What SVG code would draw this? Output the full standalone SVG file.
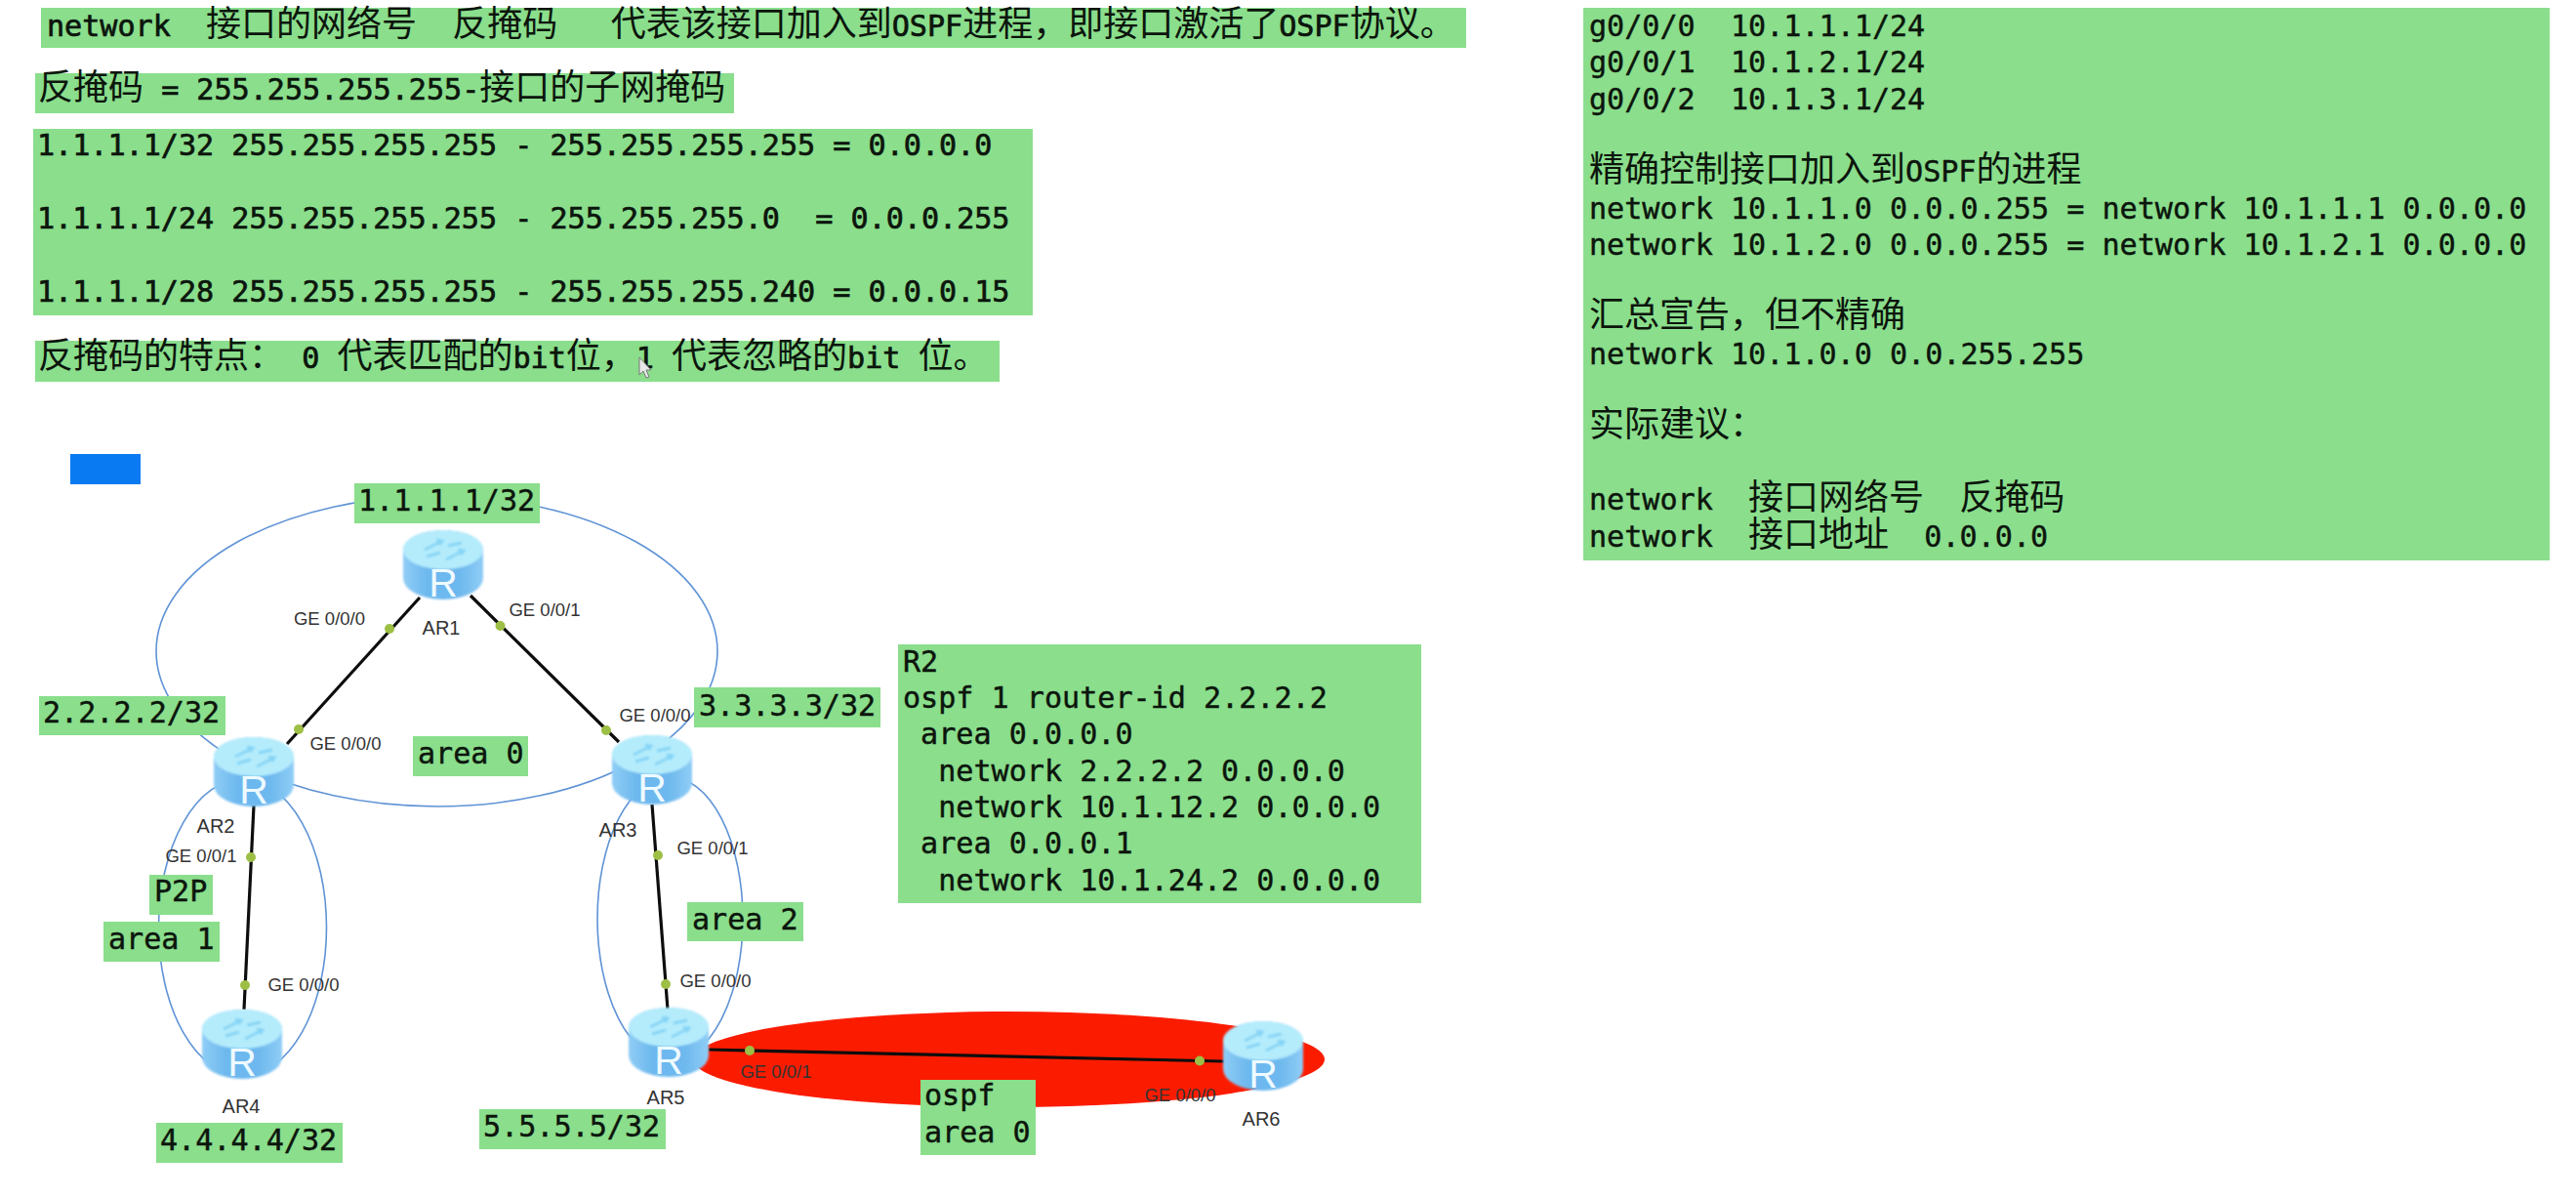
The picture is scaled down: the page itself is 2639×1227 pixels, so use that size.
<svg xmlns="http://www.w3.org/2000/svg" width="2639" height="1227" viewBox="0 0 2639 1227">
<style>
text{white-space:pre}
.m{font-family:"DejaVu Sans Mono","Liberation Mono",monospace;font-size:30.1px;fill:#0c150c;stroke:#0c150c;stroke-width:.7px}
.n{stroke-width:.45px}
.c{font-family:"Noto Sans CJK SC",sans-serif;font-size:36px;stroke:none}
.g{fill:#8ade8c}
.a{font-family:"Liberation Sans",Arial,sans-serif;font-size:18.5px;fill:#333;text-anchor:middle}
.ar{font-size:20px}
.r{font-family:"Liberation Sans",Arial,sans-serif;font-size:41px;fill:#eefaff;text-anchor:middle}
.e{fill:none;stroke:#5f93d6;stroke-width:1.6}
.l{stroke:#0d0d0d;stroke-width:3.2;fill:none}
.d{fill:#9dbf45}
</style>
<defs>
<linearGradient id="body" x1="0" x2="1" y1="0" y2="0">
<stop offset="0" stop-color="#8fcdf6"/><stop offset=".3" stop-color="#6db8ee"/><stop offset=".7" stop-color="#6db8ee"/><stop offset="1" stop-color="#8fcdf6"/>
</linearGradient>
<filter id="soft" x="-10%" y="-10%" width="120%" height="120%"><feGaussianBlur stdDeviation="1"/></filter>
<g id="router" filter="url(#soft)">
<path d="M0,20 A41,20 0 0 1 82,20 L82,49 A41,22 0 0 1 0,49 Z" fill="url(#body)"/>
<ellipse cx="41" cy="20" rx="41" ry="20" fill="#b4ecfc"/>
<path d="M22,20 L38,12 M34,10 L40,11 L37,15 M44,30 L60,22 M56,20 L62,21 L59,25 M24,27 L38,23 M46,16 L60,13" stroke="#86d4f5" stroke-width="3" fill="none"/>
</g>
</defs>
<rect width="2639" height="1227" fill="#fff"/>

<g id="note-network">
<rect class="g" x="42" y="8" width="1460" height="41"/>
<text class="m" x="48" y="37">network  <tspan class="c">接口的网络号</tspan>  <tspan class="c">反掩码</tspan>   <tspan class="c">代表该接口加入到</tspan>OSPF<tspan class="c">进程&#xFF0C;即接口激活了</tspan>OSPF<tspan class="c">协议。</tspan></text>
</g>
<g id="note-formula">
<rect class="g" x="36" y="75" width="716" height="41"/>
<text class="m" x="39" y="102"><tspan class="c">反掩码</tspan> = 255.255.255.255-<tspan class="c">接口的子网掩码</tspan></text>
</g>
<g id="note-examples">
<rect class="g" x="34" y="132" width="1024" height="191"/>
<text class="m" x="38" y="159">1.1.1.1/32 255.255.255.255 - 255.255.255.255 = 0.0.0.0</text>
<text class="m" x="38" y="234">1.1.1.1/24 255.255.255.255 - 255.255.255.0  = 0.0.0.255</text>
<text class="m" x="38" y="309">1.1.1.1/28 255.255.255.255 - 255.255.255.240 = 0.0.0.15</text>
</g>
<g id="note-feature">
<rect class="g" x="36" y="349" width="988" height="42"/>
<text class="m" x="39" y="377"><tspan class="c">反掩码的特点&#xFF1A;</tspan> 0 <tspan class="c">代表匹配的</tspan>bit<tspan class="c">位&#xFF0C;</tspan>1 <tspan class="c">代表忽略的</tspan>bit <tspan class="c">位。</tspan></text>
<path d="M655,366 L655,384 L659,380 L662,387 L665,386 L662,379 L667,379 Z" fill="#e8e8e8" stroke="#777" stroke-width="1"/>
</g>

<g id="note-right">
<rect class="g" x="1622" y="8" width="990" height="566"/>
<g class="m n">
<text x="1628" y="37">g0/0/0  10.1.1.1/24</text>
<text x="1628" y="74.3">g0/0/1  10.1.2.1/24</text>
<text x="1628" y="111.6">g0/0/2  10.1.3.1/24</text>
<text x="1628" y="186.2"><tspan class="c">精确控制接口加入到</tspan>OSPF<tspan class="c">的进程</tspan></text>
<text x="1628" y="223.5">network 10.1.1.0 0.0.0.255 = network 10.1.1.1 0.0.0.0</text>
<text x="1628" y="260.8">network 10.1.2.0 0.0.0.255 = network 10.1.2.1 0.0.0.0</text>
<text x="1628" y="335.4"><tspan class="c">汇总宣告&#xFF0C;但不精确</tspan></text>
<text x="1628" y="372.7">network 10.1.0.0 0.0.255.255</text>
<text x="1628" y="447.3"><tspan class="c">实际建议&#xFF1A;</tspan></text>
<text x="1628" y="522">network  <tspan class="c">接口网络号</tspan>  <tspan class="c">反掩码</tspan></text>
<text x="1628" y="559.5">network  <tspan class="c">接口地址</tspan>  0.0.0.0</text>
</g>
</g>

<rect id="blue-swatch" x="72" y="465" width="72" height="31" fill="#0a7af2"/>

<g id="areas">
<ellipse cx="1033.5" cy="1085" rx="323.5" ry="49" fill="#fb1c00"/>
<ellipse class="e" cx="447.5" cy="667" rx="287.5" ry="159"/>
<ellipse class="e" cx="248.5" cy="950" rx="86" ry="152"/>
<ellipse class="e" cx="686.5" cy="941" rx="74.5" ry="145"/>
</g>

<g id="connectors">
<line class="l" x1="430" y1="612" x2="294" y2="762"/>
<line class="l" x1="482" y1="610" x2="634" y2="760"/>
<line class="l" x1="260" y1="825" x2="250" y2="1034"/>
<line class="l" x1="668" y1="824" x2="684" y2="1034"/>
<line class="l" x1="726" y1="1075" x2="1254" y2="1087"/>
<circle class="d" cx="399" cy="644" r="5"/><circle class="d" cx="306" cy="747" r="5"/>
<circle class="d" cx="512.5" cy="641" r="5"/><circle class="d" cx="621" cy="748" r="5"/>
<circle class="d" cx="257" cy="878" r="5"/><circle class="d" cx="251" cy="1009" r="5"/>
<circle class="d" cx="674" cy="876" r="5"/><circle class="d" cx="682" cy="1008" r="5"/>
<circle class="d" cx="768" cy="1076" r="5"/><circle class="d" cx="1229" cy="1086.5" r="5"/>
<text class="a" x="337.5" y="640">GE 0/0/0</text>
<text class="a" x="558" y="631">GE 0/0/1</text>
<text class="a" x="354" y="768">GE 0/0/0</text>
<text class="a" x="671" y="739">GE 0/0/0</text>
<text class="a" x="206" y="883">GE 0/0/1</text>
<text class="a" x="311" y="1015">GE 0/0/0</text>
<text class="a" x="730" y="875">GE 0/0/1</text>
<text class="a" x="733" y="1011">GE 0/0/0</text>
<text class="a" x="795" y="1104">GE 0/0/1</text>
<text class="a" x="1209" y="1128">GE 0/0/0</text>
</g>

<g id="AR1"><use href="#router" x="413" y="543"/><text class="r" x="454" y="611">R</text><text class="a ar" x="452" y="650">AR1</text></g>
<g id="AR2"><use href="#router" x="219" y="755"/><text class="r" x="260" y="823">R</text><text class="a ar" x="221" y="853">AR2</text></g>
<g id="AR3"><use href="#router" x="627" y="753"/><text class="r" x="668" y="821">R</text><text class="a ar" x="633" y="857">AR3</text></g>
<g id="AR4"><use href="#router" x="207" y="1034"/><text class="r" x="248" y="1102">R</text><text class="a ar" x="247" y="1140">AR4</text></g>
<g id="AR5"><use href="#router" x="644" y="1032"/><text class="r" x="685" y="1100">R</text><text class="a ar" x="682" y="1131">AR5</text></g>
<g id="AR6"><use href="#router" x="1253" y="1046"/><text class="r" x="1294" y="1114">R</text><text class="a ar" x="1292" y="1153">AR6</text></g>

<g id="label-ar1"><rect class="g" x="363" y="495" width="190" height="41"/><text class="m n" x="367" y="523">1.1.1.1/32</text></g>
<g id="label-ar2"><rect class="g" x="40" y="713" width="191" height="40"/><text class="m n" x="44" y="740">2.2.2.2/32</text></g>
<g id="label-ar3"><rect class="g" x="711" y="704" width="191" height="41"/><text class="m n" x="716" y="733">3.3.3.3/32</text></g>
<g id="label-ar4"><rect class="g" x="160" y="1150" width="191" height="41"/><text class="m n" x="164" y="1178">4.4.4.4/32</text></g>
<g id="label-ar5"><rect class="g" x="491" y="1136" width="191" height="41"/><text class="m n" x="495" y="1164">5.5.5.5/32</text></g>
<g id="label-area0"><rect class="g" x="423" y="754" width="118" height="41"/><text class="m n" x="428" y="782">area 0</text></g>
<g id="label-p2p"><rect class="g" x="153" y="896" width="65" height="41"/><text class="m n" x="158" y="923">P2P</text></g>
<g id="label-area1"><rect class="g" x="106" y="944" width="119" height="41"/><text class="m n" x="111" y="972">area 1</text></g>
<g id="label-area2"><rect class="g" x="704" y="924" width="119" height="40"/><text class="m n" x="709" y="952">area 2</text></g>
<g id="label-ospf"><rect class="g" x="943" y="1106" width="118" height="77"/><text class="m n" x="947" y="1132">ospf</text><text class="m n" x="947" y="1170">area 0</text></g>

<g id="note-r2">
<rect class="g" x="920" y="660" width="536" height="265"/>
<g class="m n">
<text x="925" y="688">R2</text>
<text x="925" y="725">ospf 1 router-id 2.2.2.2</text>
<text x="925" y="762"> area 0.0.0.0</text>
<text x="925" y="799.5">  network 2.2.2.2 0.0.0.0</text>
<text x="925" y="837">  network 10.1.12.2 0.0.0.0</text>
<text x="925" y="874"> area 0.0.0.1</text>
<text x="925" y="911.5">  network 10.1.24.2 0.0.0.0</text>
</g>
</g>
</svg>
